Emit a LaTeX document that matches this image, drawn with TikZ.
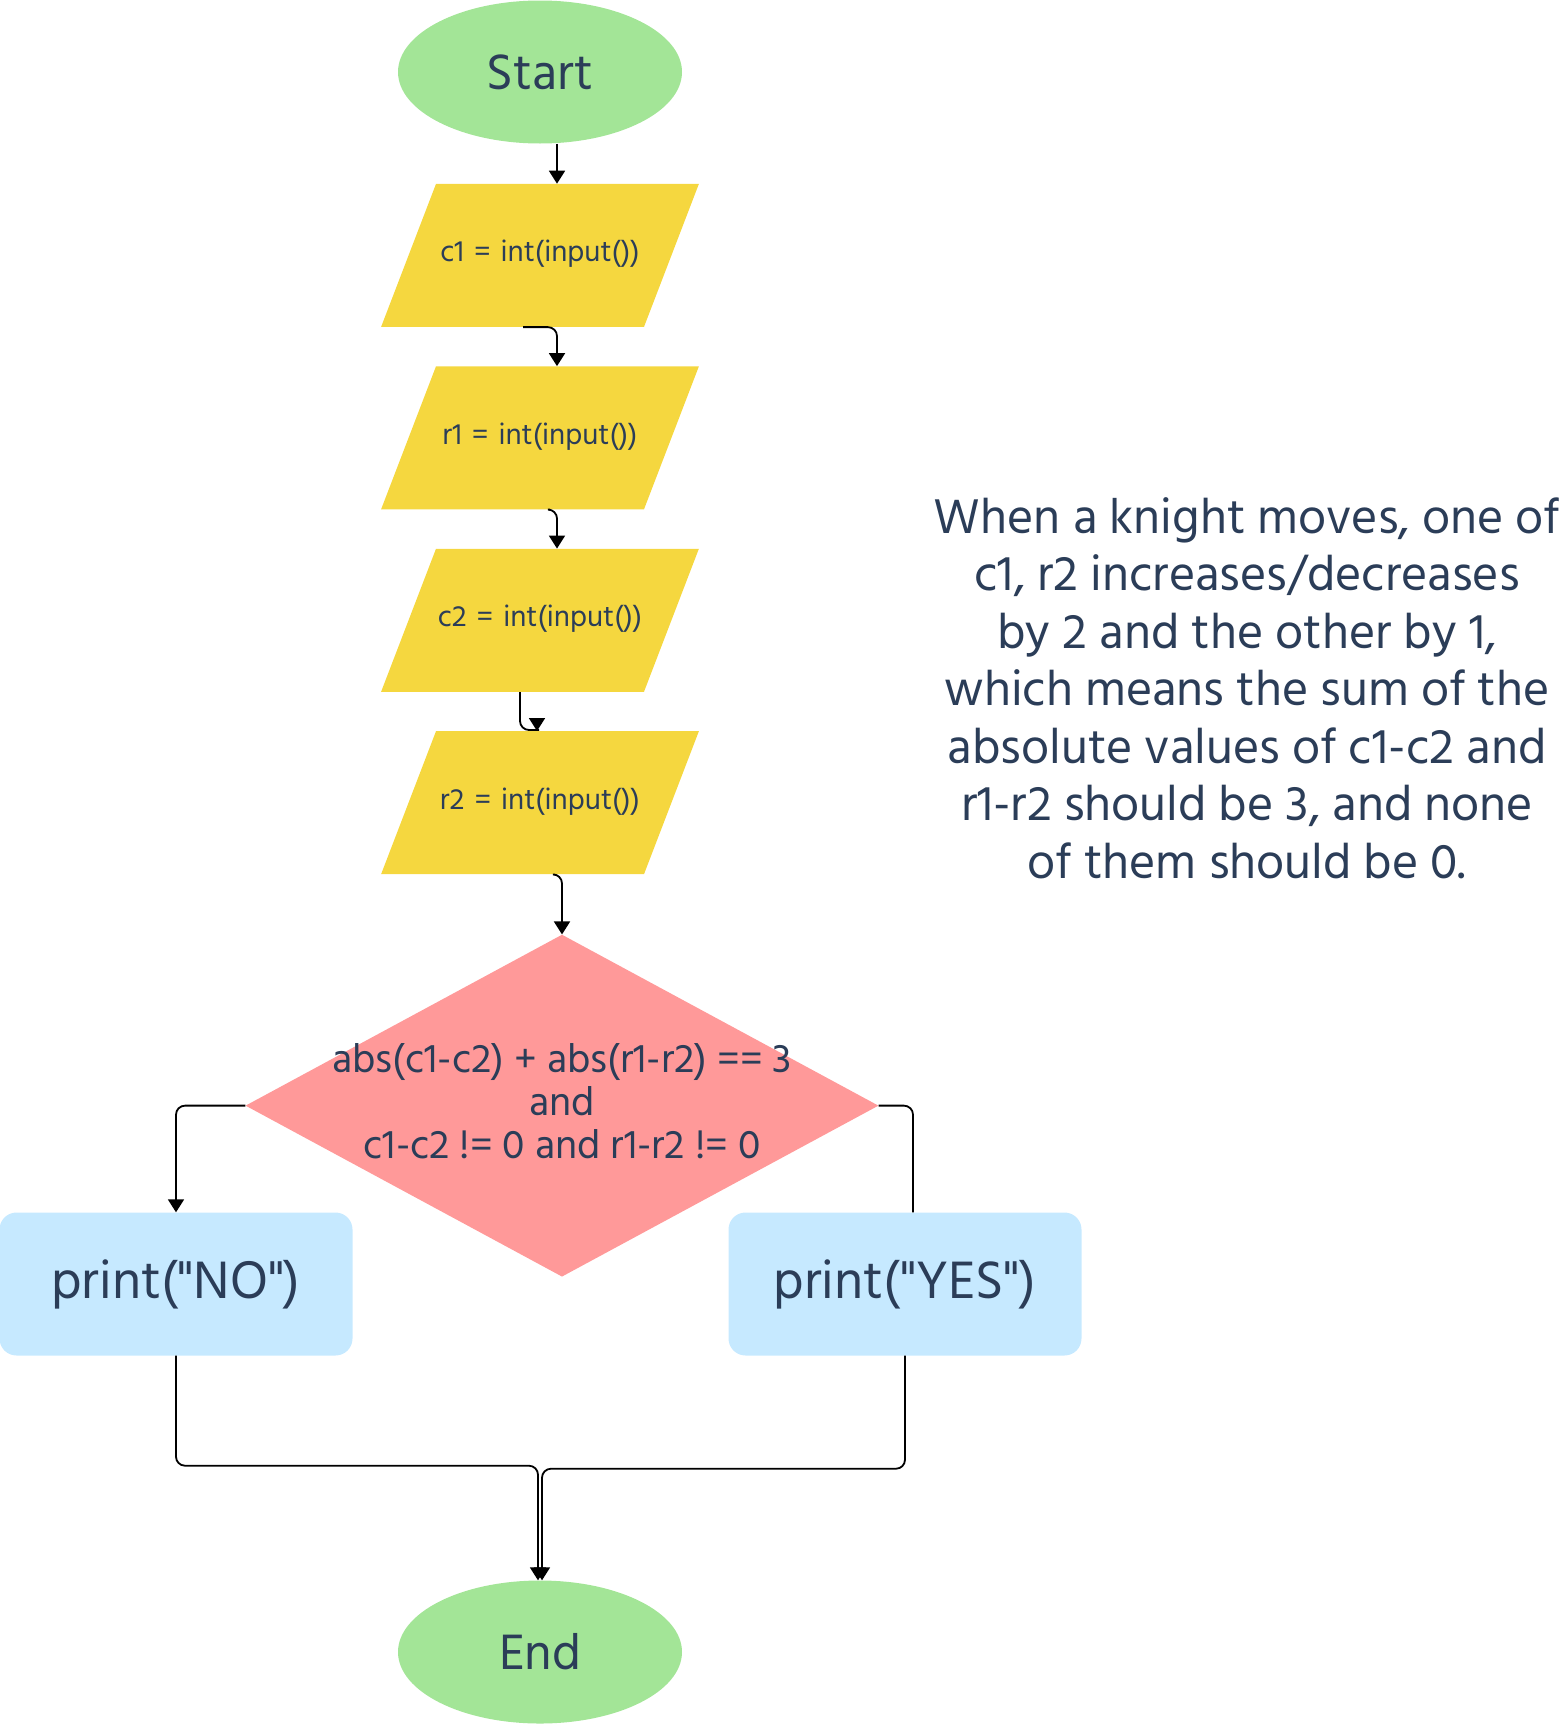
\documentclass[tikz,border=0pt]{standalone}
\usepackage{fontspec}
\setmainfont{Hind Madurai}
\usetikzlibrary{arrows.meta,positioning,shapes.geometric}
\definecolor{termgreen}{HTML}{A3E597}
\definecolor{inyellow}{HTML}{F5D73F}
\definecolor{condpink}{HTML}{FF9999}
\definecolor{outblue}{HTML}{C6E9FF}
\definecolor{inkblue}{HTML}{2B3D58}

\begin{document}
\begin{tikzpicture}[
    node distance=39pt,
    every node/.style={text=inkblue},
    term/.style={ellipse, fill=termgreen, minimum width=284pt, minimum height=143pt, inner sep=0pt, font=\fontsize{51}{56}\selectfont},
    io/.style={trapezium, trapezium left angle=69, trapezium right angle=111, fill=inyellow, text width=208pt, align=center, text height=20pt, text depth=7pt, inner xsep=0pt, inner ysep=58pt, font=\fontsize{30}{34}\selectfont},
    cond/.style={diamond, fill=condpink, minimum width=633pt, minimum height=342pt, inner sep=0pt},
    outbox/.style={rectangle, rounded corners=17pt, fill=outblue, minimum width=353pt, minimum height=143pt, font=\fontsize{54}{58}\selectfont},
    note/.style={align=center, font=\fontsize{50}{57.5}\selectfont},
    arrow/.style={-{Triangle[length=13pt,width=16pt]}, line width=1.8pt, rounded corners=9pt},
    link/.style={line width=1.8pt, rounded corners=9pt}
]
\useasboundingbox (0,0) rectangle (1566pt,-1724pt);

\node[term] (start) at (540pt,-72pt) {Start};
\node[io, below=40pt of start] (c1) {c1 = int(input())};
\node[io, below=of c1] (r1) {r1 = int(input())};
\node[io, below=of r1] (c2) {c2 = int(input())};
\node[io, below=of c2] (r2) {r2 = int(input())};
\node[cond, below=60pt of r2, xshift=22pt, label={[align=center, yshift=4pt, font=\fontsize{41}{43}\selectfont]center:{abs(c1-c2) + abs(r1-r2) == 3\\and\\c1-c2 != 0 and r1-r2 != 0}}] (check) {};
\node[outbox] (no) at (176pt,-1284pt) {print(\textquotedbl NO\textquotedbl)};
\node[outbox] (yes) at (905pt,-1284pt) {print(\textquotedbl YES\textquotedbl)};
\node[term] (stop) at (540pt,-1652pt) {End};

\node[note] (knight) at (1247pt,-688pt) {When a knight moves, one of\\c1, r2 increases/decreases\\by 2 and the other by 1,\\which means the sum of the\\absolute values of c1-c2 and\\r1-r2 should be 3, and none\\of them should be 0.};

\draw[arrow] ([xshift=17pt]start.south) -- ([xshift=17pt]c1.north);
\draw[arrow] ([xshift=-17pt]c1.south) -| ([xshift=17pt]r1.north);
\draw[arrow] ([xshift=10pt]r1.south) -| ([xshift=17pt]c2.north);
\draw[link] ([xshift=-20pt]c2.south) |- ([xshift=-1pt,yshift=1pt]r2.north);
\draw[arrow] ([xshift=-3pt,yshift=13pt]r2.north) -- ([xshift=-3pt]r2.north);
\draw[arrow] ([xshift=15pt]r2.south) -| (check.north);
\draw[arrow] (check.west) -| (no.north);
\draw[link] (check.east) -| ([xshift=8pt]yes.north);
\draw[arrow] (no.south) -- ++(0,-110pt) -| ([xshift=-2pt]stop.north);
\draw[arrow] (yes.south) -- ++(0,-113pt) -| ([xshift=2pt]stop.north);
\end{tikzpicture}
\end{document}
